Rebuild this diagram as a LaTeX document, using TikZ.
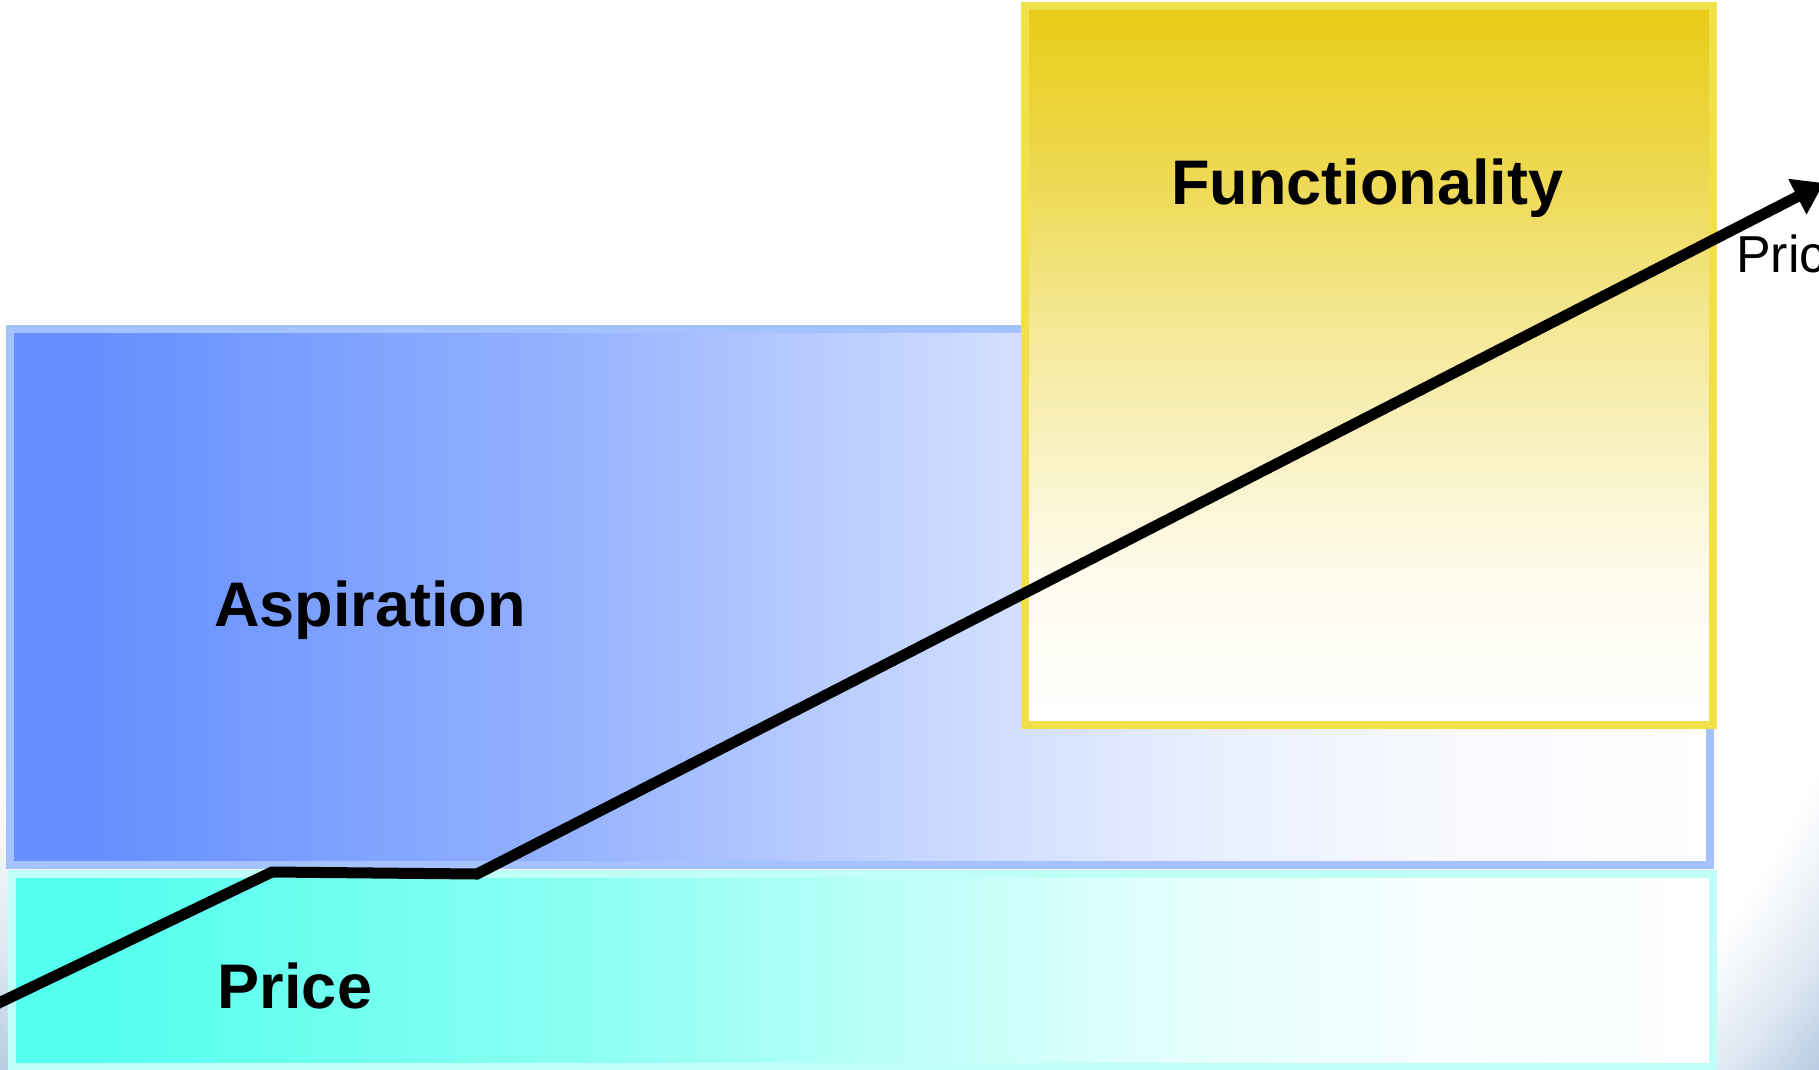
\documentclass[tikz,border=0pt]{standalone}
\usepackage{fontspec}
\setmainfont{Liberation Sans}
\usetikzlibrary{arrows.meta}
\definecolor{aspB}{HTML}{6690FF}
\definecolor{aspBorder}{HTML}{A4C2FF}
\definecolor{priceC}{HTML}{55FFEE}
\definecolor{priceBorder}{HTML}{C0FFF8}
\definecolor{funcY}{HTML}{E8CC18}
\definecolor{funcBorder}{HTML}{F2E04A}
\definecolor{bgblue}{HTML}{A8C0DC}
\colorlet{bgbluea}{bgblue!40!white}
\colorlet{aspBa}{aspB!70!white}
\colorlet{aspBb}{aspB!30!white}
\colorlet{aspBc}{aspB!15!white}
\colorlet{aspBd}{aspB!5!white}
\colorlet{priceCa}{priceC!70!white}
\colorlet{priceCb}{priceC!30!white}
\colorlet{priceCc}{priceC!15!white}
\colorlet{priceCd}{priceC!5!white}
\colorlet{funcYa}{funcY!8!white}
\colorlet{funcYb}{funcY!24!white}
\colorlet{funcYc}{funcY!45!white}
\colorlet{funcYd}{funcY!76!white}
\pgfdeclarehorizontalshading{aspshade}{100bp}{color(0bp)=(aspB); color(27.6bp)=(aspB); color(41.2bp)=(aspBa); color(54.1bp)=(aspBb); color(60bp)=(aspBc); color(67.4bp)=(aspBd); color(75bp)=(white); color(100bp)=(white)}
\pgfdeclarehorizontalshading{priceshade}{100bp}{color(0bp)=(priceC); color(27.6bp)=(priceC); color(41.2bp)=(priceCa); color(54.1bp)=(priceCb); color(60bp)=(priceCc); color(67.4bp)=(priceCd); color(75bp)=(white); color(100bp)=(white)}
\pgfdeclareverticalshading{funcshade}{100bp}{color(0bp)=(white); color(25.2bp)=(white); color(35.1bp)=(funcYa); color(43.15bp)=(funcYb); color(52.5bp)=(funcYc); color(63.6bp)=(funcYd); color(74.7bp)=(funcY); color(100bp)=(funcY)}
\pgfdeclareradialshading{bgrad}{\pgfpoint{0bp}{0bp}}{color(0bp)=(white); color(19.2bp)=(white); color(21bp)=(bgbluea); color(22.8bp)=(bgblue); color(50bp)=(bgblue)}
\tikzset{
  boxline/.style={line width=8pt},
  bigtxt/.style={font=\fontsize{63pt}{70pt}\bfseries\selectfont, inner sep=0pt, anchor=base},
  smalltxt/.style={font=\fontsize{52pt}{60pt}\selectfont, inner sep=0pt, anchor=base west},
  trend/.style={line width=11pt, -{Triangle[length=30pt,width=38pt]}}
}
\begin{document}
\begin{tikzpicture}[x=1pt,y=-1pt]
\useasboundingbox (0,0) rectangle (1819,1069);
\clip (0,0) rectangle (1819,1069);
\fill[white] (0,0) rectangle (1819,1069);
\shade[shading=bgrad] (-390,-950) rectangle (2210,1650);
% Aspiration
\shade[shading=aspshade, draw=aspBorder, boxline] (10,329) rectangle (1710,865);
% Price
\shade[shading=priceshade, draw=priceBorder, boxline] (12,874) rectangle (1713,1067);
% Functionality
\shade[shading=funcshade, draw=funcBorder, boxline] (1025,6) rectangle (1713,725);
% labels
\node[bigtxt] (functxt) at (1367,204) {Functionality};
\node[bigtxt] (asptxt) at (370,626) {Aspiration};
\node[bigtxt] (pricetxt) at (295,1008) {Price};
\node[smalltxt] (axistxt) at (1736,272) {Price};
% trend arrow
\coordinate (a0) at (-20,1012);
\coordinate (a1) at (272,872);
\coordinate (a2) at (477,874);
\coordinate (a3) at (1824,183);
\draw[trend] (a0) -- (a1) -- (a2) -- (a3);
\end{tikzpicture}
\end{document}
